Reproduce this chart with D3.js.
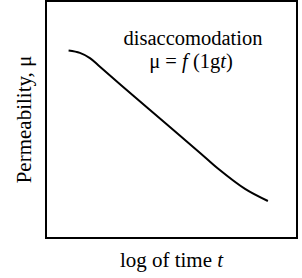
<!DOCTYPE html>
<html>
<head>
<meta charset="utf-8">
<script src="https://cdn.jsdelivr.net/npm/d3@7"></script>
<style>
  body { margin: 0; background: #fff; }
  svg text { font-family: "Liberation Serif", "DejaVu Serif", serif; fill: #000; }
</style>
</head>
<body>
<div id="chart"></div>
<script>
// curve (arbitrary units, 0..10 on both axes)
const logTime = [0.90, 1.35, 1.75, 2.15, 3.47, 4.82, 6.14, 6.85, 7.93, 8.84];
const permeability = [7.91, 7.81, 7.59, 7.23, 6.01, 4.79, 3.59, 2.93, 2.07, 1.56];

const width = 302, height = 278;
const margin = { top: 1, right: 5, bottom: 40, left: 46 };

const svg = d3.select('#chart')
    .append('svg')
    .attr('width', width)
    .attr('height', height);

const x = d3.scaleLinear().domain([0, 10]).range([margin.left, width - margin.right]);
const y = d3.scaleLinear().domain([0, 10]).range([height - margin.bottom, margin.top]);

// plot frame
svg.append('rect')
    .attr('x', x(0))
    .attr('y', y(10))
    .attr('width', x(10) - x(0))
    .attr('height', y(0) - y(10))
    .style('fill', 'none')
    .style('stroke', '#000')
    .style('stroke-width', 2);

const line = d3.line()
    .x((d, i) => x(logTime[i]))
    .y(d => y(d))
    .curve(d3.curveCatmullRom.alpha(0.5));

svg.append('path')
    .datum(permeability)
    .attr('d', line)
    .style('fill', 'none')
    .style('stroke', '#000')
    .style('stroke-width', 2);

// annotation
svg.append('text')
    .attr('x', 193)
    .attr('y', 45)
    .attr('text-anchor', 'middle')
    .style('font-size', '20.5px')
    .text('disaccomodation');

const l2 = svg.append('text')
    .attr('x', 191)
    .attr('y', 68)
    .attr('text-anchor', 'middle')
    .style('font-size', '20.5px');
l2.append('tspan').text('μ = ');
l2.append('tspan').style('font-style', 'italic').text('f');
l2.append('tspan').text(' (1g');
l2.append('tspan').style('font-style', 'italic').text('t');
l2.append('tspan').text(')');

// axis titles
const xt = svg.append('text')
    .attr('x', (x(0) + x(10)) / 2)
    .attr('y', 267)
    .attr('text-anchor', 'middle')
    .style('font-size', '21px');
xt.append('tspan').text('log of time ');
xt.append('tspan').style('font-style', 'italic').text('t');

svg.append('text')
    .attr('transform', `translate(31,${(y(0) + y(10)) / 2}) rotate(-90)`)
    .attr('text-anchor', 'middle')
    .style('font-size', '21px')
    .text('Permeability, μ');
</script>
</body>
</html>
